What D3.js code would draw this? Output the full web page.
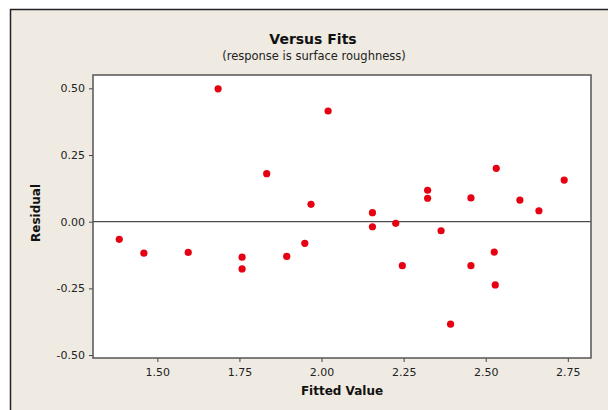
<!DOCTYPE html>
<html>
<head>
<meta charset="utf-8">
<script src="https://cdn.jsdelivr.net/npm/d3@7"></script>
<style>
  body { margin: 0; background: #ffffff; }
  svg { display: block; }
</style>
</head>
<body>
<svg id="svg-main" width="608" height="410"></svg>
<script>
// fitted values and residuals
var fitted = [1.384, 1.459, 1.594, 1.685, 1.758, 1.758, 1.833, 1.894, 1.949, 1.968,
              2.020, 2.155, 2.155, 2.226, 2.246, 2.323, 2.323, 2.364, 2.393, 2.455,
              2.455, 2.526, 2.529, 2.532, 2.604, 2.662, 2.739];
var residual = [-0.066, -0.118, -0.115, 0.498, -0.133, -0.177, 0.180, -0.130, -0.081, 0.065,
                0.415, 0.034, -0.019, -0.006, -0.165, 0.118, 0.088, -0.034, -0.384, 0.089,
                -0.165, -0.114, -0.237, 0.200, 0.081, 0.041, 0.156];
var xTicks = [1.50, 1.75, 2.00, 2.25, 2.50, 2.75];
var yTicks = [-0.50, -0.25, 0.00, 0.25, 0.50];

var svg = d3.select("#svg-main");
var font = "DejaVu Sans, Verdana, sans-serif";

// plain hyphen for negatives, like the original
var fmt = function(d) { return d.toFixed(2); };

// panel background and frame
svg.append("rect")
  .attr("x", 10).attr("y", 9)
  .attr("width", 598).attr("height", 401)
  .attr("fill", "#efebe2");
svg.append("path")
  .attr("d", "M10.5,410V9.5H608")
  .attr("fill", "none")
  .attr("stroke", "#222")
  .attr("stroke-width", 1.5);

var plotL = 93, plotT = 75, plotR = 591, plotB = 358;

var x = d3.scaleLinear().domain([1.304, 2.8206]).range([plotL, plotR]);
var y = d3.scaleLinear().domain([-0.511, 0.55]).range([plotB, plotT]);

svg.append("rect")
  .attr("x", plotL).attr("y", plotT)
  .attr("width", plotR - plotL).attr("height", plotB - plotT)
  .attr("fill", "white");

// axes
var xAxis = svg.append("g")
  .attr("transform", "translate(0," + plotB + ")")
  .call(d3.axisBottom(x).tickValues(xTicks).tickFormat(fmt)
        .tickSize(4).tickSizeOuter(0));
var yAxis = svg.append("g")
  .attr("transform", "translate(" + plotL + ",0)")
  .call(d3.axisLeft(y).tickValues(yTicks).tickFormat(fmt)
        .tickSize(4).tickSizeOuter(0));

[xAxis, yAxis].forEach(function(g) {
  g.select(".domain").remove();
  g.selectAll(".tick line").attr("stroke", "#444");
  g.selectAll(".tick text")
    .attr("font-family", font)
    .style("font-size", "11px")
    .attr("fill", "#222");
});
xAxis.selectAll(".tick text").attr("dy", "1.0em");
yAxis.selectAll(".tick text").attr("dx", "-0.1em");

// zero reference line
svg.append("line")
  .attr("x1", plotL).attr("x2", plotR)
  .attr("y1", y(0)).attr("y2", y(0))
  .attr("stroke", "#222")
  .attr("stroke-width", 1);

// plot border
svg.append("rect")
  .attr("x", plotL).attr("y", plotT)
  .attr("width", plotR - plotL).attr("height", plotB - plotT)
  .attr("fill", "none")
  .attr("stroke", "#555")
  .attr("stroke-width", 1.5);

// points
svg.append("g").selectAll("circle")
  .data(fitted)
  .enter()
  .append("circle")
  .attr("cx", function(d) { return x(d); })
  .attr("cy", function(d, i) { return y(residual[i]); })
  .attr("r", 3.6)
  .attr("fill", "#e60012");

// titles
svg.append("text")
  .attr("x", 313).attr("y", 44)
  .attr("text-anchor", "middle")
  .attr("font-family", font)
  .attr("font-weight", "bold")
  .style("font-size", "14px")
  .attr("fill", "#111")
  .text("Versus Fits");
svg.append("text")
  .attr("x", 314).attr("y", 60)
  .attr("text-anchor", "middle")
  .attr("font-family", font)
  .style("font-size", "11.5px")
  .attr("fill", "#222")
  .text("(response is surface roughness)");

svg.append("text")
  .attr("x", (plotL + plotR) / 2).attr("y", 395)
  .attr("text-anchor", "middle")
  .attr("font-family", font)
  .attr("font-weight", "bold")
  .style("font-size", "12px")
  .attr("fill", "#111")
  .text("Fitted Value");
svg.append("text")
  .attr("transform", "translate(40,213) rotate(-90)")
  .attr("text-anchor", "middle")
  .attr("font-family", font)
  .attr("font-weight", "bold")
  .style("font-size", "12px")
  .attr("fill", "#111")
  .text("Residual");
</script>
</body>
</html>
